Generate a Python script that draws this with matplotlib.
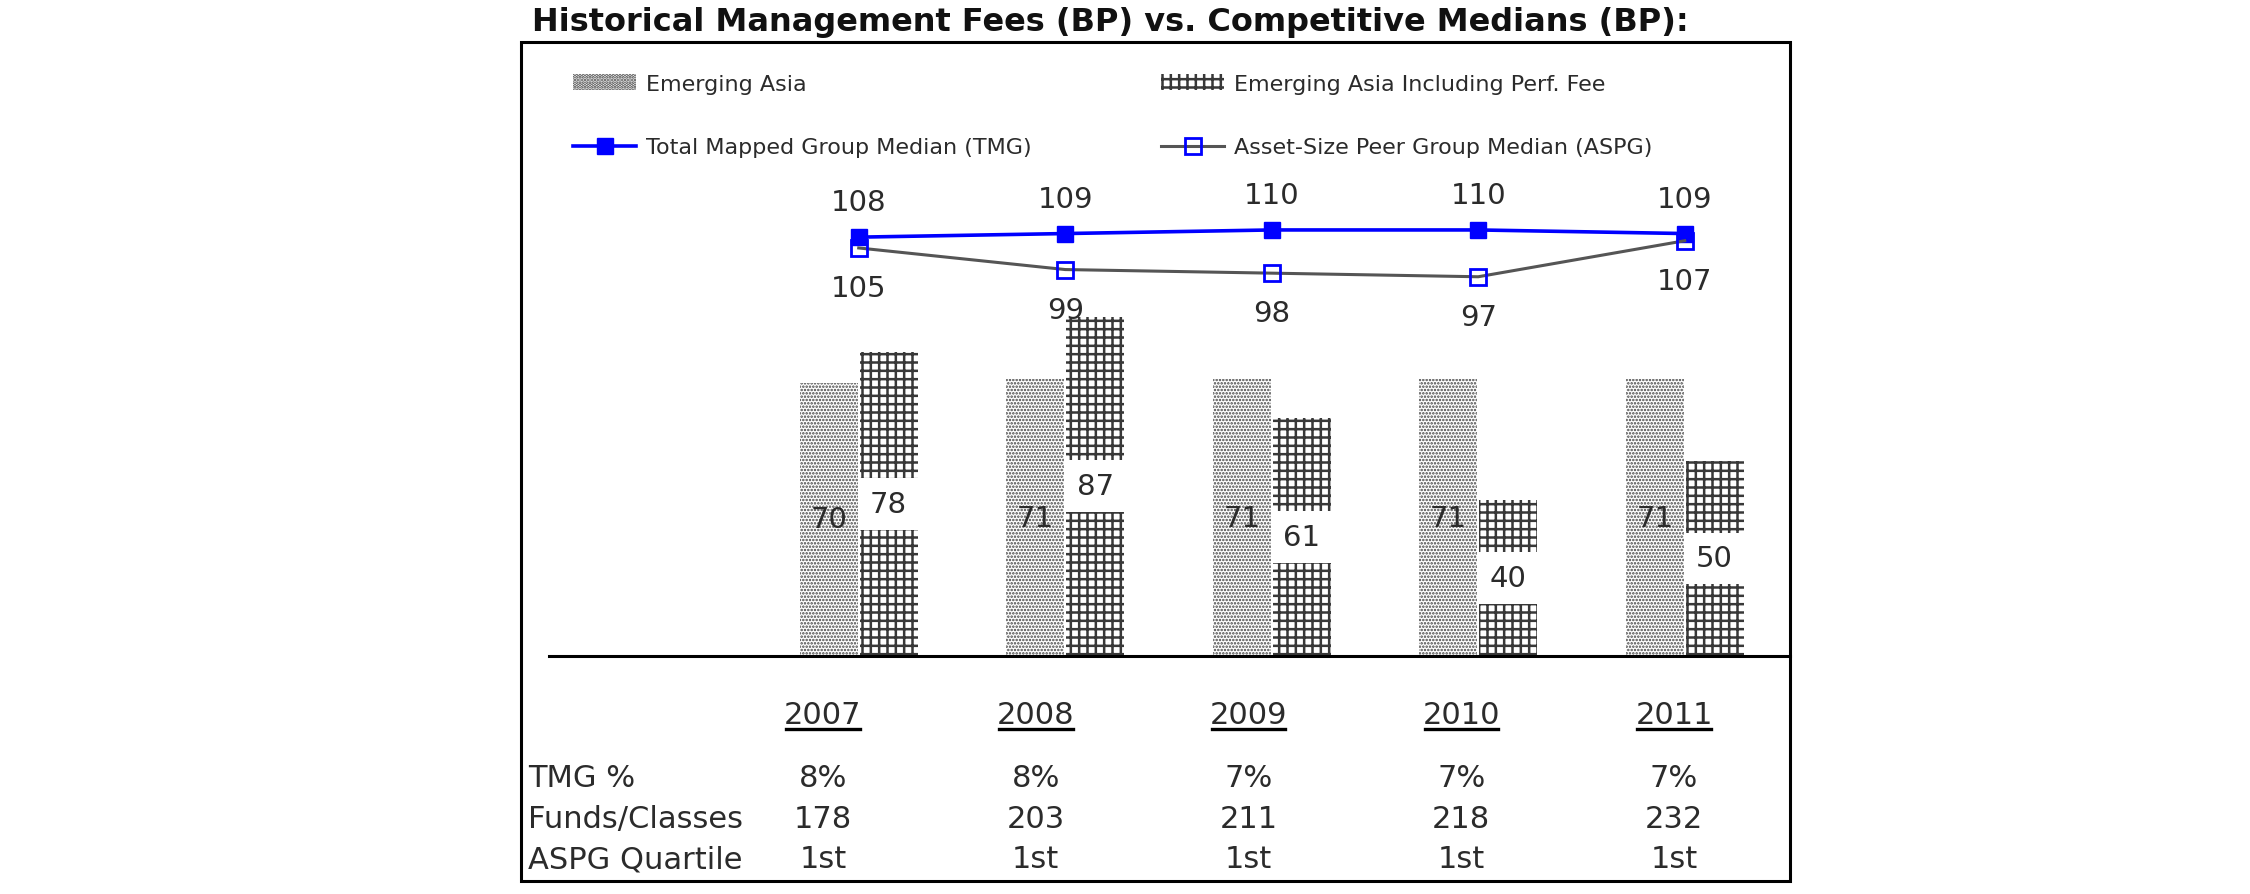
import numpy as np
import matplotlib
matplotlib.use("Agg")
import matplotlib.pyplot as plt
from matplotlib.lines import Line2D
from matplotlib.patches import Rectangle

years = ["2007", "2008", "2009", "2010", "2011"]
emerging_asia = [70, 71, 71, 71, 71]
emerging_asia_perf = [78, 87, 61, 40, 50]
tmg_median = [108, 109, 110, 110, 109]
aspg_median = [105, 99, 98, 97, 107]

row_labels = ["TMG %", "Funds/Classes", "ASPG Quartile"]
tmg_pct = ["8%", "8%", "7%", "7%", "7%"]
funds_classes = ["178", "203", "211", "218", "232"]
aspg_quartile = ["1st", "1st", "1st", "1st", "1st"]

title = "Historical Management Fees (BP) vs. Competitive Medians (BP):"

W, H = 2250, 895
TXT = "#2b2b2b"


def fx(px):
    return px / W


def fy(py):
    return 1 - py / H


fig = plt.figure(figsize=(W / 100, H / 100), dpi=100)

# bar axes, bottom spine is the baseline
ax = fig.add_axes([fx(549), fy(657), fx(1790) - fx(549), fy(43) - fy(657)])
x = np.arange(len(years))
bw = 0.28
off = 0.145

plt.rcParams["hatch.linewidth"] = 1.2
bars1 = ax.bar(x - off, emerging_asia, bw, color="white", edgecolor="#444444",
               hatch=".....", lw=0, label="Emerging Asia")
plt.rcParams["hatch.linewidth"] = 1.8
bars2 = ax.bar(x + off, emerging_asia_perf, bw, color="white", edgecolor="#383838",
               hatch="++", lw=0, label="Emerging Asia Including Perf. Fee")

# white gap behind the labels of the hatched bars
box_h = 13.3
gap_bottom = [v / 2 - box_h / 2 for v in emerging_asia_perf]
ax.bar(x + off, box_h, bw, bottom=gap_bottom, color="white", lw=0)

for xi, v in zip(x, emerging_asia):
    ax.text(xi - off, v / 2, str(v), ha="center", va="center", fontsize=21, color=TXT)
for xi, v in zip(x, emerging_asia_perf):
    ax.text(xi + off, v / 2, str(v), ha="center", va="center", fontsize=21, color=TXT)

ax.set_xlim(-1.5, 4.51)
ax.set_ylim(0, 157.4)
ax.set_xticks([])
ax.set_yticks([])
for s in ["top", "left", "right"]:
    ax.spines[s].set_visible(False)
ax.spines["bottom"].set_linewidth(2.2)

# line axes on its own scale
ax2 = ax.twinx()
ln_tmg, = ax2.plot(x, tmg_median, color="#0000ff", lw=2.6, marker="s", ms=12,
                   mfc="#0000ff", mec="#0000ff", label="Total Mapped Group Median (TMG)")
ln_aspg, = ax2.plot(x, aspg_median, color="#555555", lw=2.2, marker="s", ms=11,
                    mfc="none", mec="#0000ff", mew=2,
                    label="Asset-Size Peer Group Median (ASPG)")
for xi, v in zip(x, tmg_median):
    ax2.annotate(str(v), (xi, v), xytext=(0, 25), textcoords="offset points",
                 ha="center", va="center", fontsize=21, color=TXT)
for xi, v in zip(x, aspg_median):
    ax2.annotate(str(v), (xi, v), xytext=(0, -29), textcoords="offset points",
                 ha="center", va="center", fontsize=21, color=TXT)
ax2.set_ylim(-8.33, 162.2)
ax2.set_yticks([])
for s in ax2.spines.values():
    s.set_visible(False)

# legends, one per column
leg_kw = dict(loc="upper left", frameon=False, borderpad=0, borderaxespad=0,
              handlelength=2.85, handletextpad=0.45, labelspacing=1.95,
              prop=dict(family="DejaVu Sans", size=16), labelcolor=TXT)
fig.legend([bars1, ln_tmg], [bars1.get_label(), ln_tmg.get_label()],
           bbox_to_anchor=(fx(573), fy(75)), **leg_kw)
fig.legend([bars2, ln_aspg], [bars2.get_label(), ln_aspg.get_label()],
           bbox_to_anchor=(fx(1161), fy(75)), **leg_kw)

# outer frame
fig.add_artist(Rectangle((fx(521), fy(882)), fx(1790) - fx(521), fy(43) - fy(882),
                         transform=fig.transFigure, fill=False, lw=2.2, ec="black"))

fig.text(fx(532), fy(22), title, fontsize=23, fontweight="bold", ha="left",
         va="center", color="#111111")

# table under the chart
col_x = [823 + 212.75 * i for i in range(len(years))]
year_txt = [fig.text(fx(cx), fy(716), yr, fontsize=22, ha="center", va="center", color=TXT)
            for cx, yr in zip(col_x, years)]
rows = [tmg_pct, funds_classes, aspg_quartile]
row_y = [779, 820, 860]
for lab, vals, ry in zip(row_labels, rows, row_y):
    fig.text(fx(528), fy(ry), lab, fontsize=22, ha="left", va="center", color=TXT)
    for cx, v in zip(col_x, vals):
        fig.text(fx(cx), fy(ry), v, fontsize=22, ha="center", va="center", color=TXT)

fig.canvas.draw()
r = fig.canvas.get_renderer()
for t in year_txt:
    bb = t.get_window_extent(r)
    fig.add_artist(Line2D([fx(bb.x0 + 2), fx(bb.x1 - 2)], [fy(730), fy(730)],
                          transform=fig.transFigure, color="black", lw=2.4))

fig.savefig("out.png", dpi=100)
